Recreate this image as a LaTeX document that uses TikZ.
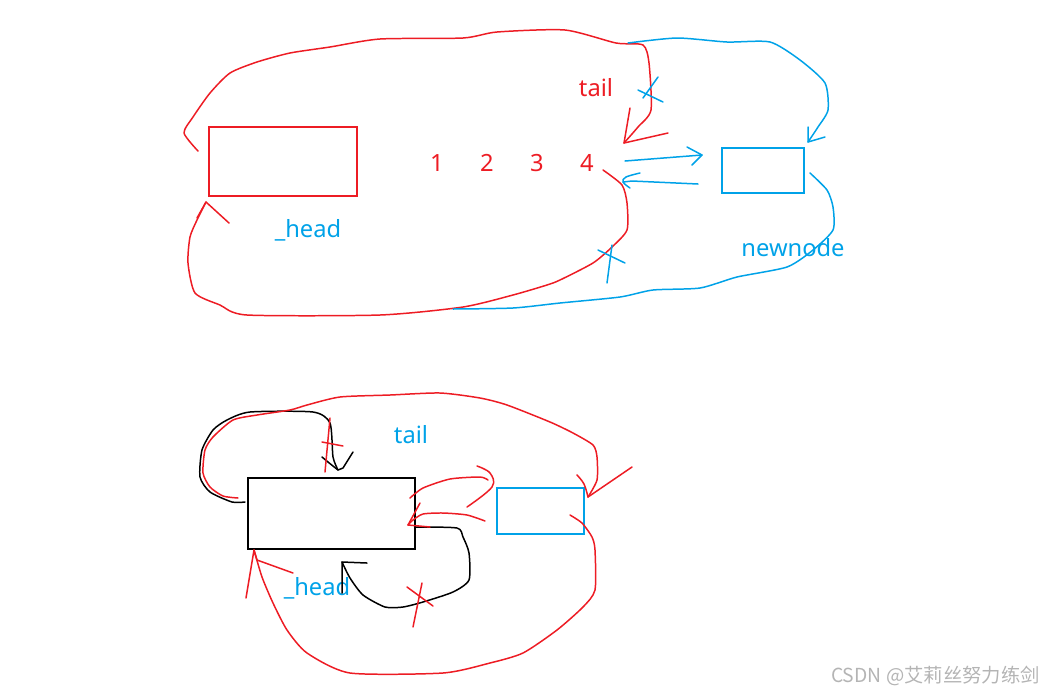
\documentclass[tikz,border=0pt]{standalone}
\usepackage{fontspec}
\setmainfont{Noto Sans}
\newfontfamily\cjk{Noto Sans CJK SC}
\usetikzlibrary{positioning}
\definecolor{PaintRed}{HTML}{ED1C24}
\definecolor{PaintBlue}{HTML}{00A2E8}
\definecolor{Mark}{HTML}{B4B4B4}

\begin{document}
\begin{tikzpicture}[x=0.02cm, y=-0.02cm,
    redpen/.style={PaintRed, line width=0.85pt, line join=round, line cap=round},
    bluepen/.style={PaintBlue, line width=0.85pt, line join=round, line cap=round},
    blackpen/.style={black, line width=0.85pt, line join=round, line cap=round},
    box/.style={rectangle, draw, line width=1.5pt, inner sep=0pt},
    label/.style={font=\fontsize{13.5}{16}\selectfont, inner sep=0pt}
]
\useasboundingbox (0,0) rectangle (1044,694);

% upper sketch
\node[box, draw=PaintRed, minimum width=2.96cm, minimum height=1.38cm] (head) at (283,161.5) {};
\node[box, draw=PaintBlue, minimum width=1.64cm, minimum height=0.9cm] (newnode) at (763,170.5) {};
\node[label, text=PaintBlue] (headtxt) at (308,230) {\_head};
\node[label, text=PaintRed] (tailtxt) at (596,88) {tail};
\node[label, text=PaintBlue] (newtxt) at (793,248) {newnode};
\foreach \n/\x in {1/437, 2/487, 3/537, 4/587}
  \node[label, text=PaintRed] (num\n) at (\x,163) {\n};

% red ring round the list
\draw[redpen] plot[smooth, tension=0.4] coordinates {(198,151) (184,133) (193,117) (210,93) (230,73) (257,62) (290,53) (330,47) (380,39) (463,38) (497,32) (565,30) (616,43) (643,45) (649,63) (651,110) (638,127) (624,143)};
\draw[redpen] (630,108) -- (624,143) -- (668,133);
\draw[redpen] plot[smooth, tension=0.4] coordinates {(603,170) (622,185) (627,203) (627,230) (612,247) (593,263) (560,280) (547,285) (513,295) (463,307) (380,315) (247,315) (220,305) (195,293) (188,263) (190,237) (197,220) (206,202)};
\draw[redpen] (197,218) -- (206,202) -- (229,223);

% blue ring round newnode
\draw[bluepen] plot[smooth, tension=0.4] coordinates {(628,43) (677,38) (727,42) (770,42) (800,60) (825,83) (828,110) (818,127) (808,142)};
\draw[bluepen] (808,127) -- (808,142) -- (825,137);
\draw[bluepen] plot[smooth, tension=0.4] coordinates {(810,173) (827,190) (833,207) (833,230) (813,250) (787,267) (737,277) (700,288) (653,290) (620,297) (560,303) (513,308) (453,309)};
\draw[bluepen] (638,90) -- (663,102);
\draw[bluepen] (658,77) -- (643,98);
\draw[bluepen] (598,250) -- (625,263);
\draw[bluepen] (612,245) -- (607,283);

% blue arrows between 4 and newnode
\draw[bluepen] (625,161) -- (702,155);
\draw[bluepen] (687,147) -- (702,155) -- (692,165);
\draw[bluepen] (698,184) -- (632,181) -- (623,182);
\draw[bluepen] plot[smooth, tension=0.6] coordinates {(640,173) (626,177) (623,182) (630,188)};

% lower sketch
\node[box, draw=black, minimum width=3.34cm, minimum height=1.42cm] (list) at (331.5,513.5) {};
\node[box, draw=PaintBlue, minimum width=1.74cm, minimum height=0.92cm] (newbox) at (540.5,511) {};
\node[label, text=PaintBlue] (tail2) at (411,435) {tail};
\node[label, text=PaintBlue] (head2) at (317,588) {\_head};

% black self links
\draw[blackpen] plot[smooth, tension=0.4] coordinates {(245,502) (232,502) (210,492) (200,477) (202,450) (213,430) (227,420) (250,412) (313,412) (330,423) (333,457) (338,470)};
\draw[blackpen] (322,457) -- (328,462) -- (338,470) -- (343,468) -- (353,452);
\draw[blackpen] plot[smooth, tension=0.4] coordinates {(416,527) (457,528) (463,537) (469,553) (469,580) (453,592) (423,602) (403,607) (385,607) (363,595) (350,578) (342,562)};
\draw[blackpen] (342,593) -- (342,562) -- (367,563);

% red crosses on black links
\draw[redpen] (330,418) -- (325,472);
\draw[redpen] (322,442) -- (343,446);
\draw[redpen] (407,587) -- (433,606);
\draw[redpen] (422,583) -- (413,627);

% red outer ring
\draw[redpen] plot[smooth, tension=0.4] coordinates {(238,498) (223,496) (210,487) (203,473) (205,450) (213,437) (233,420) (257,415) (290,410) (307,405) (340,397) (390,395) (440,393) (480,398) (507,405) (550,422) (573,433) (593,445) (597,457) (597,480) (588,497)};
\draw[redpen] plot[smooth, tension=0.6] coordinates {(577,475) (584,484) (588,497)};
\draw[redpen] (632,467) -- (588,497);
\draw[redpen] plot[smooth, tension=0.4] coordinates {(570,515) (582,523) (592,537) (595,550) (595,590) (583,607) (557,630) (523,653) (490,663) (443,673) (350,673) (307,653) (287,630) (273,603) (262,577) (254,550)};
\draw[redpen] (246,598) -- (254,550) -- (257,560) -- (293,573);

% red links between list and newnode
\draw[redpen] plot[smooth, tension=0.4] coordinates {(410,498) (423,488) (450,479) (480,477) (488,480)};
\draw[redpen] plot[smooth, tension=0.6] coordinates {(477,466) (490,473) (492,487) (467,507)};
\draw[redpen] plot[smooth, tension=0.4] coordinates {(485,521) (467,515) (443,513) (423,514) (413,520) (408,525)};
\draw[redpen] (420,503) -- (408,525) -- (430,527);

% watermark
\node[text=Mark, font=\cjk\fontsize{11}{13}\selectfont, anchor=east, inner sep=0pt] (mark) at (1040,676) {CSDN @艾莉丝努力练剑};
\end{tikzpicture}
\end{document}
